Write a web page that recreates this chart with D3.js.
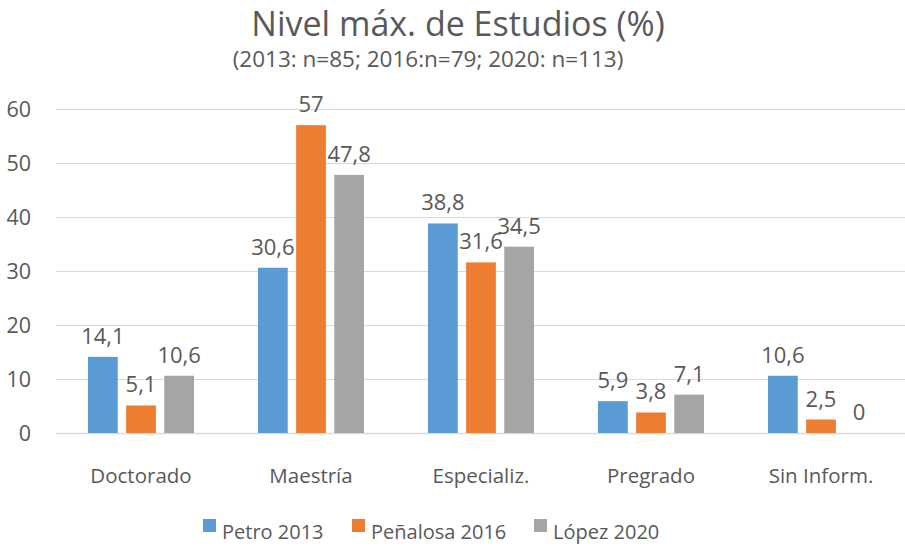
<!DOCTYPE html>
<html>
<head>
<meta charset="utf-8">
<script src="https://cdn.jsdelivr.net/npm/d3@7"></script>
<style>
  body { margin: 0; background: #fff; }
  svg text { font-family: "Open Sans", Lato, sans-serif; fill: #595959; }
</style>
</head>
<body>
<div id="chart"></div>
<script>
// categories and series
var categories = ["Doctorado", "Maestría", "Especializ.", "Pregrado", "Sin Inform."];
var seriesNames = ["Petro 2013", "Peñalosa 2016", "López 2020"];
var petro2013 = [14.1, 30.6, 38.8, 5.9, 10.6];
var penalosa2016 = [5.1, 57, 31.6, 3.8, 2.5];
var lopez2020 = [10.6, 47.8, 34.5, 7.1, 0];
var yTicks = [0, 10, 20, 30, 40, 50, 60];
var colors = ["#5b9bd5", "#ed7d31", "#a5a5a5"];

var w = 905,
    h = 548;

var svg = d3.select("#chart")
    .append("svg")
    .attr("width", w)
    .attr("height", h);

// table built from the arrays
var values = [petro2013, penalosa2016, lopez2020];
var rows = categories.map(function (c, i) {
    return { cat: c, vals: values.map(function (s, k) { return { name: seriesNames[k], k: k, v: s[i] }; }) };
});

var x0 = d3.scaleBand()
    .domain(categories)
    .range([56, 906])
    .padding(0);

var x1 = d3.scaleBand()
    .domain(d3.range(seriesNames.length))
    .range([32, x0.bandwidth() - 32])
    .paddingInner(0.22);

var y = d3.scaleLinear()
    .domain([0, 60])
    .range([433, 109]);

// title
svg.append("text")
    .attr("x", 458)
    .attr("y", 36)
    .attr("text-anchor", "middle")
    .style("font-size", "34px")
    .text("Nivel máx. de Estudios (%)");

svg.append("text")
    .attr("x", 428)
    .attr("y", 67)
    .attr("text-anchor", "middle")
    .style("font-size", "22.5px")
    .text("(2013: n=85; 2016:n=79; 2020: n=113)");

// gridlines
svg.append("g")
    .selectAll("line")
    .data(yTicks)
    .enter().append("line")
    .attr("x1", 56)
    .attr("x2", 906)
    .attr("y1", function (d) { return y(d) + 0.5; })
    .attr("y2", function (d) { return y(d) + 0.5; })
    .attr("stroke", "#d9d9d9")
    .attr("stroke-width", function (d) { return d === 0 ? 1.5 : 1.2; });

// y labels
svg.append("g")
    .selectAll("text")
    .data(yTicks)
    .enter().append("text")
    .attr("x", 31)
    .attr("y", function (d) { return y(d); })
    .attr("dy", "0.35em")
    .attr("text-anchor", "end")
    .style("font-size", "21.5px")
    .text(function (d) { return d; });

// bars
var groups = svg.append("g")
    .selectAll("g")
    .data(rows)
    .enter().append("g")
    .attr("transform", function (d) { return "translate(" + x0(d.cat) + ",0)"; });

groups.selectAll("rect")
    .data(function (d) { return d.vals; })
    .enter().append("rect")
    .attr("x", function (d) { return x1(d.k); })
    .attr("y", function (d) { return y(d.v); })
    .attr("width", x1.bandwidth())
    .attr("height", function (d) { return y(0) - y(d.v); })
    .attr("fill", function (d) { return colors[d.k]; });

groups.selectAll("text")
    .data(function (d) { return d.vals; })
    .enter().append("text")
    .attr("x", function (d) { return x1(d.k) + x1.bandwidth() / 2; })
    .attr("y", function (d) { return y(d.v) - 13; })
    .attr("text-anchor", "middle")
    .style("font-size", "22px")
    .text(function (d) { return String(d.v).replace(".", ","); });

// category labels
svg.append("g")
    .selectAll("text")
    .data(categories)
    .enter().append("text")
    .attr("x", function (d) { return x0(d) + x0.bandwidth() / 2; })
    .attr("y", 483)
    .attr("text-anchor", "middle")
    .style("font-size", "20.5px")
    .text(function (d) { return d; });

// legend
var legendX = [203, 352, 534];
var legend = svg.append("g")
    .selectAll("g")
    .data(seriesNames)
    .enter().append("g")
    .attr("transform", function (d, i) { return "translate(" + legendX[i] + ",519)"; });

legend.append("rect")
    .attr("width", 13)
    .attr("height", 13)
    .attr("fill", function (d, i) { return colors[i]; });

legend.append("text")
    .attr("x", 19)
    .attr("y", 20)
    .style("font-size", "20px")
    .text(function (d) { return d; });
</script>
</body>
</html>
